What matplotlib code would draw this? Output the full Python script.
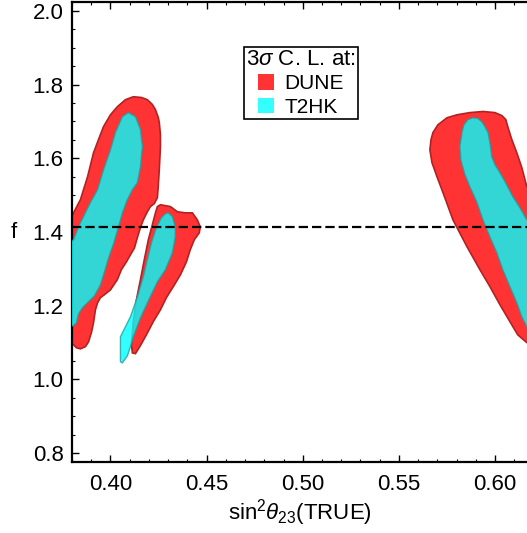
import numpy as np
import matplotlib
matplotlib.use("Agg")
import matplotlib.pyplot as plt
import matplotlib.patches as mpatches

# --- DATA ---
# DUNE 3 sigma regions (red), left / middle / right islands
dune_left_x = [0.3760, 0.3808, 0.3844, 0.3881, 0.3912, 0.3938, 0.3964, 0.4000, 0.4036, 0.4078,
               0.4119, 0.4161, 0.4192, 0.4218, 0.4234, 0.4249, 0.4254, 0.4260, 0.4260, 0.4254,
               0.4249, 0.4244, 0.4228, 0.4208, 0.4192, 0.4171, 0.4156, 0.4140, 0.4125, 0.4104,
               0.4083, 0.4057, 0.4036, 0.4000, 0.3969, 0.3948, 0.3933, 0.3922, 0.3912, 0.3901,
               0.3886, 0.3870, 0.3844, 0.3823, 0.3808, 0.3760]
dune_left_y = [1.400, 1.452, 1.488, 1.550, 1.615, 1.651, 1.686, 1.718, 1.740, 1.759,
               1.767, 1.765, 1.759, 1.746, 1.732, 1.710, 1.697, 1.664, 1.632, 1.569,
               1.528, 1.493, 1.477, 1.469, 1.455, 1.433, 1.412, 1.385, 1.357, 1.338,
               1.319, 1.298, 1.271, 1.243, 1.230, 1.222, 1.208, 1.189, 1.154, 1.127,
               1.102, 1.089, 1.083, 1.086, 1.094, 1.100]

dune_mid_x = [0.4244, 0.4260, 0.4312, 0.4348, 0.4389, 0.4426, 0.4452, 0.4467, 0.4462, 0.4436,
              0.4415, 0.4395, 0.4364, 0.4327, 0.4291, 0.4260, 0.4223, 0.4187, 0.4156, 0.4130,
              0.4114, 0.4109, 0.4119, 0.4135, 0.4156, 0.4176, 0.4197, 0.4218, 0.4234]
dune_mid_y = [1.469, 1.474, 1.469, 1.455, 1.452, 1.452, 1.433, 1.414, 1.398, 1.379,
              1.352, 1.319, 1.284, 1.252, 1.222, 1.189, 1.157, 1.121, 1.092, 1.070,
              1.072, 1.094, 1.157, 1.216, 1.271, 1.325, 1.379, 1.420, 1.452]

dune_right_x = [0.6200, 0.6165, 0.6139, 0.6113, 0.6087, 0.6066, 0.6056, 0.6035, 0.5999, 0.5937,
                0.5869, 0.5802, 0.5750, 0.5703, 0.5677, 0.5667, 0.5661, 0.5672, 0.5698, 0.5729,
                0.5781, 0.5854, 0.5921, 0.5973, 0.6025, 0.6077, 0.6118, 0.6165, 0.6200]
dune_right_y = [1.520, 1.523, 1.575, 1.615, 1.651, 1.686, 1.705, 1.716, 1.724, 1.727,
                1.724, 1.718, 1.710, 1.691, 1.670, 1.651, 1.623, 1.588, 1.550, 1.507,
                1.433, 1.360, 1.298, 1.252, 1.203, 1.157, 1.121, 1.100, 1.090]

# T2HK 3 sigma regions (cyan)
t2hk_left_x = [0.4093, 0.4062, 0.4026, 0.4000, 0.3964, 0.3933, 0.3896, 0.3860, 0.3834, 0.3808,
               0.3760, 0.3760, 0.3808, 0.3823, 0.3834, 0.3855, 0.3886, 0.3917, 0.3948, 0.3969,
               0.3990, 0.4016, 0.4042, 0.4062, 0.4088, 0.4114, 0.4140, 0.4156, 0.4166, 0.4156,
               0.4130]
t2hk_left_y = [1.724, 1.713, 1.670, 1.623, 1.569, 1.515, 1.480, 1.442, 1.414, 1.379,
               1.360, 1.140, 1.146, 1.154, 1.178, 1.195, 1.211, 1.227, 1.257, 1.292,
               1.330, 1.368, 1.414, 1.452, 1.488, 1.515, 1.534, 1.577, 1.632, 1.678,
               1.713]

t2hk_mid_x = [0.4301, 0.4322, 0.4337, 0.4337, 0.4322, 0.4286, 0.4244, 0.4192, 0.4156, 0.4119,
              0.4104, 0.4088, 0.4062, 0.4052, 0.4052, 0.4078, 0.4104, 0.4140, 0.4171, 0.4192,
              0.4213, 0.4239, 0.4265, 0.4286]
t2hk_mid_y = [1.452, 1.442, 1.414, 1.387, 1.344, 1.298, 1.265, 1.208, 1.167, 1.116,
              1.089, 1.064, 1.045, 1.048, 1.116, 1.143, 1.170, 1.224, 1.279, 1.325,
              1.371, 1.412, 1.439, 1.450]

t2hk_right_x = [0.6200, 0.6165, 0.6129, 0.6092, 0.6051, 0.6025, 0.5999, 0.5983, 0.5973, 0.5963,
                0.5947, 0.5931, 0.5911, 0.5885, 0.5859, 0.5838, 0.5828, 0.5817, 0.5822, 0.5843,
                0.5869, 0.5906, 0.5937, 0.5973, 0.6009, 0.6040, 0.6077, 0.6113, 0.6139, 0.6165,
                0.6200]
t2hk_right_y = [1.430, 1.433, 1.466, 1.496, 1.537, 1.561, 1.583, 1.604, 1.642, 1.670,
                1.686, 1.699, 1.708, 1.710, 1.705, 1.691, 1.670, 1.632, 1.596, 1.556,
                1.523, 1.480, 1.433, 1.387, 1.344, 1.298, 1.252, 1.208, 1.170, 1.143,
                1.135]

F_TRUE = np.sqrt(2)  # dashed reference line

x_ticks = [0.40, 0.45, 0.50, 0.55, 0.60]
y_ticks = [0.8, 1.0, 1.2, 1.4, 1.6, 1.8, 2.0]

# --- STYLE ---
plt.rcParams['font.family'] = ['Liberation Sans', 'DejaVu Sans']
plt.rcParams['mathtext.fontset'] = 'custom'
plt.rcParams['mathtext.rm'] = 'Liberation Sans'
plt.rcParams['mathtext.it'] = 'Liberation Sans:italic'

RED = '#ff3333'
RED_EDGE = '#b22222'
CYAN = '#00ffff'
CYAN_EDGE = '#229e9e'

fig = plt.figure(figsize=(5.27, 5.33), dpi=100)
ax = fig.add_axes([0.1366, 0.1332, 0.8634, 0.863])

for xs, ys in [(dune_left_x, dune_left_y), (dune_mid_x, dune_mid_y), (dune_right_x, dune_right_y)]:
    ax.fill(xs, ys, facecolor=RED, edgecolor=RED_EDGE, linewidth=1.2, zorder=2)

for xs, ys in [(t2hk_left_x, t2hk_left_y), (t2hk_mid_x, t2hk_mid_y), (t2hk_right_x, t2hk_right_y)]:
    ax.fill(xs, ys, facecolor=CYAN, alpha=0.8, edgecolor=CYAN_EDGE, linewidth=1.0, zorder=3)

ax.axhline(F_TRUE, color='black', linestyle=(0, (4.2, 1.8)), linewidth=1.6, zorder=4)

ax.set_xlim(0.3803, 0.6166)
ax.set_ylim(0.776, 2.024)

ax.set_xticks(x_ticks)
ax.set_xticklabels([f"{v:.2f}" for v in x_ticks])
ax.set_xticks(np.arange(0.38, 0.62, 0.01), minor=True)
ax.set_yticks(y_ticks)
ax.set_yticklabels([f"{v:.1f}" for v in y_ticks])
ax.set_yticks(np.arange(0.80, 2.02, 0.05), minor=True)

ax.tick_params(which='both', direction='in', top=True, right=False, labelsize=16)
ax.tick_params(which='major', length=5, width=1.0)
ax.tick_params(which='minor', length=2.5, width=0.8)
ax.tick_params(axis='x', which='major', pad=8.5)
ax.tick_params(axis='y', which='major', pad=6)
for side in ['left', 'bottom', 'top']:
    ax.spines[side].set_linewidth(1.6)
ax.spines['right'].set_visible(False)

ax.set_xlabel(r"sin$^2\theta_{23}$(TRUE)", fontsize=16, labelpad=2)
ax.set_ylabel("f", fontsize=16, rotation=0, ha='center', va='center')
ax.yaxis.set_label_coords(-0.1275, 0.5)

handles = [mpatches.Patch(facecolor=RED, edgecolor='none', label='DUNE'),
           mpatches.Patch(facecolor='#33ffff', edgecolor='none', label='T2HK')]
leg = ax.legend(handles=handles, title=r"3$\sigma$ C. L. at:", loc='upper left',
                bbox_to_anchor=(0.378, 0.902), fontsize=15, title_fontsize=16,
                handlelength=0.75, handleheight=0.75, handletextpad=0.5,
                borderpad=0.1, labelspacing=0.2, borderaxespad=0,
                fancybox=False, framealpha=1, edgecolor='black', alignment='center')
leg.get_frame().set_linewidth(1.2)
leg.set_zorder(5)

plt.savefig("out.png", dpi=100)
